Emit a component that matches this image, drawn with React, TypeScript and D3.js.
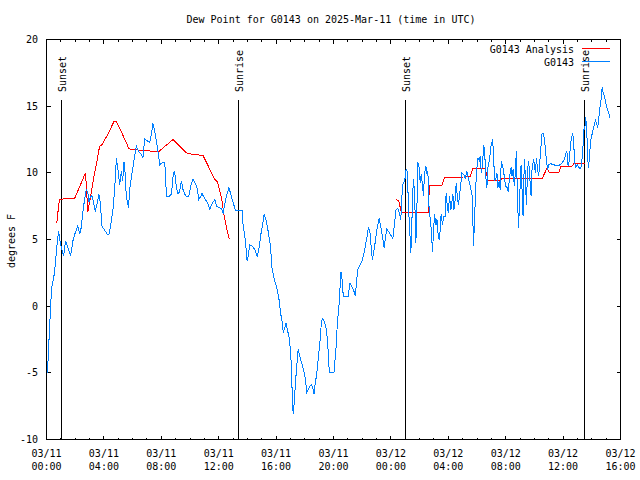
import React from "react";
import * as d3 from "d3";

const TITLE = "Dew Point for G0143 on 2025-Mar-11 (time in UTC)";
const Y_LABEL = "degrees F";
const SERIES_NAMES = ["G0143 Analysis", "G0143"];
const SERIES_COLORS = ["#ff0000", "#0080ff"];
const Y_TICKS = [-10, -5, 0, 5, 10, 15, 20];

// hours since 2025-03-11 00:00 UTC
const OBS_HOURS = [
  0.0, 0.07, 0.21, 0.35, 0.56, 0.72, 0.84, 0.96, 1.07, 1.19, 1.33, 1.49, 1.68, 1.84, 2.0, 2.18, 2.32, 2.42, 2.53, 2.65,
  2.77, 2.88, 2.95, 3.05, 3.16, 3.28, 3.4, 3.51, 3.65, 3.75, 3.86, 4.05, 4.24, 4.35, 4.47, 4.63, 4.75, 4.87, 4.98, 5.1,
  5.21, 5.31, 5.4, 5.45, 5.56, 5.72, 5.79, 5.95, 6.14, 6.26, 6.42, 6.61, 6.72, 6.84, 7.03, 7.19, 7.31, 7.42, 7.54, 7.66,
  7.77, 7.89, 8.05, 8.24, 8.36, 8.52, 8.71, 8.82, 8.89, 8.98, 9.05, 9.17, 9.28, 9.4, 9.51, 9.63, 9.75, 9.91, 10.05, 10.21,
  10.38, 10.52, 10.61, 10.75, 10.84, 11.03, 11.22, 11.38, 11.54, 11.73, 11.85, 12.01, 12.2, 12.31, 12.38, 12.54, 12.71, 12.84, 12.94, 13.08,
  13.17, 13.35, 13.63, 13.7, 13.82, 13.89, 13.98, 14.05, 14.17, 14.33, 14.52, 14.68, 14.8, 14.94, 15.06, 15.17, 15.29, 15.45, 15.62, 15.69,
  15.85, 15.99, 16.1, 16.22, 16.31, 16.43, 16.5, 16.61, 16.68, 16.78, 16.89, 16.96, 17.03, 17.08, 17.15, 17.19, 17.26, 17.36, 17.43, 17.54,
  17.61, 17.73, 17.85, 17.96, 18.06, 18.13, 18.24, 18.36, 18.48, 18.55, 18.64, 18.71, 18.83, 18.94, 19.06, 19.13, 19.22, 19.34, 19.46, 19.57,
  19.64, 19.71, 20.03, 20.17, 20.27, 20.38, 20.45, 20.52, 20.61, 20.68, 21.03, 21.15, 21.27, 21.43, 21.52, 21.62, 21.69, 21.85, 21.99, 22.08,
  22.2, 22.32, 22.43, 22.55, 22.62, 22.71, 22.78, 22.9, 23.02, 23.18, 23.29, 23.41, 23.53, 23.6, 23.71, 23.87, 24.01, 24.13, 24.24, 24.36,
  24.48, 24.59, 24.69, 24.81, 24.92, 24.99, 25.06, 25.15, 25.22, 25.32, 25.39, 25.46, 25.5, 25.57, 25.64, 25.69, 25.74, 25.81, 25.88, 25.97,
  26.04, 26.11, 26.2, 26.27, 26.34, 26.44, 26.51, 26.58, 26.62, 26.74, 26.81, 26.9, 26.97, 27.04, 27.14, 27.21, 27.27, 27.36, 27.43, 27.5,
  27.6, 27.67, 27.78, 27.85, 27.94, 28.01, 28.08, 28.18, 28.32, 28.39, 28.48, 28.55, 28.64, 28.71, 28.83, 28.95, 29.06, 29.18, 29.3, 29.41,
  29.53, 29.65, 29.72, 29.76, 29.83, 29.93, 30.0, 30.07, 30.16, 30.23, 30.3, 30.39, 30.46, 30.53, 30.63, 30.69, 30.76, 30.86, 30.93, 30.99,
  31.09, 31.16, 31.23, 31.32, 31.39, 31.46, 31.55, 31.62, 31.69, 31.81, 31.9, 31.99, 32.09, 32.18, 32.27, 32.37, 32.44, 32.51, 32.6, 32.67,
  32.74, 32.83, 32.9, 32.97, 33.07, 33.14, 33.21, 33.3, 33.37, 33.44, 33.53, 33.6, 33.67, 33.77, 33.84, 33.95, 34.02, 34.07, 34.14, 34.23,
  34.3, 34.37, 34.46, 34.53, 34.6, 34.69, 34.76, 34.83, 34.92, 34.99, 35.11, 35.34, 35.58, 35.81, 35.93, 36.04, 36.16, 36.23, 36.28, 36.35,
  36.44, 36.51, 36.58, 36.67, 36.75, 36.79, 36.86, 36.98, 37.09, 37.21, 37.28, 37.35, 37.42, 37.47, 37.51, 37.58, 37.63, 37.7, 37.75, 37.79,
  37.86, 37.95, 38.02, 38.09, 38.18, 38.25, 38.32, 38.41, 38.48, 38.55, 38.65, 38.72, 38.79, 38.88, 38.95, 39.02, 39.11, 39.18, 39.25,
];
const OBS_VALUES = [
  -5.1, -4.9, -1.7, 1.3, 2.5, 4.5, 5.6, 4.8, 4.25, 3.75, 4.9, 4.4, 3.8, 4.9, 5.5, 6.0, 5.4, 5.9, 7.0, 8.0,
  8.75, 8.55, 7.8, 8.15, 8.3, 7.8, 7.1, 7.6, 8.4, 7.8, 6.0, 5.7, 5.4, 5.4, 6.0, 7.25, 8.75, 11.1, 10.25, 9.1,
  10.1, 9.4, 10.8, 10.5, 8.25, 7.4, 8.75, 9.9, 11.25, 12.0, 11.6, 11.4, 11.1, 12.55, 12.4, 12.25, 12.9, 13.7, 13.1, 12.4,
  11.6, 10.6, 10.75, 10.8, 8.25, 8.2, 8.4, 9.75, 10.1, 9.75, 8.9, 8.4, 8.6, 9.4, 8.75, 8.4, 8.2, 8.2, 9.0, 9.55,
  9.2, 8.75, 8.0, 8.25, 8.45, 8.05, 7.75, 7.25, 7.7, 8.0, 7.5, 7.4, 7.3, 6.95, 7.4, 8.25, 8.9, 8.4, 8.0, 7.5,
  7.2, 7.2, 7.2, 6.1, 5.25, 4.5, 3.4, 3.75, 4.6, 4.5, 4.25, 3.7, 4.25, 5.4, 6.1, 6.9, 6.5, 5.6, 4.4, 3.0,
  2.1, 1.6, 1.1, 0.4, -0.5, -1.25, -2.0, -1.6, -1.25, -1.75, -2.25, -2.9, -3.75, -5.4, -7.1, -8.1, -7.25, -5.6, -4.6, -3.25,
  -3.6, -4.1, -4.5, -5.0, -5.6, -6.5, -6.25, -6.0, -5.9, -6.1, -6.6, -5.9, -5.1, -3.9, -2.6, -1.6, -0.9, -1.1, -1.5, -2.4,
  -3.6, -5.0, -5.0, -3.25, -1.25, 0.0, 1.25, 2.55, 1.9, 0.75, 0.75, 1.75, 1.5, 1.1, 0.75, 2.0, 2.75, 3.1, 3.4, 3.75,
  4.4, 5.1, 5.9, 5.5, 4.5, 3.5, 3.9, 4.75, 5.75, 6.6, 6.0, 5.25, 4.4, 5.0, 5.8, 5.55, 5.3, 5.05, 6.1, 7.25,
  7.3, 7.0, 6.5, 9.1, 9.3, 9.6, 10.25, 10.1, 7.5, 5.5, 4.0, 6.1, 8.0, 9.5, 8.6, 6.9, 4.75, 7.25, 10.8, 10.4,
  9.25, 9.9, 9.1, 8.25, 9.9, 10.5, 9.9, 10.1, 7.9, 6.5, 5.75, 4.1, 5.6, 6.9, 6.1, 6.5, 5.6, 5.0, 5.6, 6.9,
  6.1, 6.75, 6.75, 8.5, 7.4, 7.0, 8.25, 7.25, 8.4, 7.25, 8.0, 9.25, 8.0, 7.6, 8.75, 10.0, 9.9, 9.6, 10.1, 9.5,
  9.0, 8.4, 6.1, 4.5, 6.6, 9.25, 10.4, 11.1, 10.9, 11.25, 10.0, 10.6, 12.1, 11.6, 9.5, 8.9, 10.4, 10.9, 11.6, 12.1,
  12.5, 11.1, 9.4, 9.6, 10.0, 8.9, 9.4, 8.75, 10.9, 10.4, 9.75, 9.0, 8.9, 8.6, 9.75, 10.4, 9.75, 10.25, 9.0, 10.0,
  11.6, 7.75, 5.9, 8.1, 10.6, 8.75, 6.75, 11.0, 9.75, 7.6, 10.25, 10.9, 9.75, 8.25, 10.4, 11.0, 10.4, 10.0, 11.1, 10.25,
  9.75, 10.75, 12.0, 12.9, 13.0, 12.6, 11.9, 11.0, 10.25, 10.6, 10.7, 10.6, 10.55, 10.6, 10.75, 10.9, 11.25, 11.6, 11.5, 10.5,
  11.0, 12.1, 12.6, 13.0, 12.0, 11.0, 10.4, 10.6, 10.4, 10.3, 10.6, 11.4, 12.6, 13.5, 13.25, 14.2, 13.25, 12.0, 10.4, 10.6,
  11.6, 12.6, 12.9, 13.25, 13.6, 13.95, 13.75, 13.4, 14.0, 14.75, 15.5, 16.4, 16.05, 15.75, 15.4, 15.0, 14.7, 14.5, 14.1,
];

// analysis series, two segments (gap between them)
const ANA1_HOURS = [0.72, 0.84, 0.91, 1.26, 1.95, 2.72, 2.88, 3.12, 3.35, 3.54, 3.7, 3.86, 4.28, 4.7, 4.87, 5.21, 5.75, 6.49, 7.66, 7.77, 8.82, 9.75, 10.1, 10.91, 11.73, 11.92, 12.2, 12.38, 12.54, 12.73];
const ANA1_VALUES = [6.25, 7.5, 8.0, 8.05, 8.05, 10.0, 7.1, 8.5, 10.0, 11.0, 12.0, 12.1, 12.9, 13.85, 13.85, 13.1, 11.8, 11.7, 11.6, 11.55, 12.5, 11.5, 11.4, 11.3, 9.5, 9.3, 8.1, 6.75, 5.9, 5.05];
const ANA2_HOURS = [24.33, 24.54, 24.73, 26.6, 26.69, 27.54, 27.73, 29.53, 29.7, 30.58, 30.79, 31.62, 31.73, 34.53, 34.88, 35.06, 35.69, 35.85, 36.63, 36.75, 37.56];
const ANA2_VALUES = [8.0, 7.9, 7.05, 7.05, 9.05, 9.05, 9.65, 9.7, 10.3, 10.3, 9.4, 9.4, 9.6, 9.55, 10.35, 10.0, 10.0, 10.5, 10.5, 10.7, 10.7];

const EVENT_HOURS = [0.98, 13.35, 25.01, 37.44];
const EVENT_LABELS = ["Sunset", "Sunrise", "Sunset", "Sunrise"];

const START = Date.UTC(2025, 2, 11, 0, 0);
const END = Date.UTC(2025, 2, 12, 16, 0);
const toDate = (h: number) => new Date(START + h * 3600e3);

const FONT = "'DejaVu Sans Mono', 'Liberation Mono', monospace";

export default function App() {
  const W = 640, H = 480;
  const left = 46.5, right = 620.5, top = 39.5, bottom = 439.5;
  const x = d3.scaleUtc().domain([new Date(START), new Date(END)]).range([left, right]);
  const y = d3.scaleLinear().domain([-10, 20]).range([bottom, top]);

  const line = d3
    .line<[Date, number]>()
    .x((d) => x(d[0]))
    .y((d) => y(d[1]));

  const obs: [Date, number][] = OBS_HOURS.map((h, i) => [toDate(h), OBS_VALUES[i]]);
  const ana1: [Date, number][] = ANA1_HOURS.map((h, i) => [toDate(h), ANA1_VALUES[i]]);
  const ana2: [Date, number][] = ANA2_HOURS.map((h, i) => [toDate(h), ANA2_VALUES[i]]);

  const majorTicks = x.ticks(d3.utcHour.every(4)!);
  const minorTicks = x.ticks(d3.utcHour.every(1)!);
  const fmtDate = d3.utcFormat("%m/%d");
  const fmtTime = d3.utcFormat("%H:%M");

  return (
    <svg width={W} height={H} style={{ display: "block", position: "absolute", left: 0, top: 0, background: "#fff" }} fontFamily={FONT} fontSize={10}>
      <rect x={0} y={0} width={W} height={H} fill="#fff" />
      <text x={331} y={23} textAnchor="middle" fill="#000">{TITLE}</text>
      <text transform={`translate(15,241) rotate(-90)`} textAnchor="middle" fill="#000">{Y_LABEL}</text>

      {/* ticks */}
      <g shapeRendering="crispEdges" stroke="#000">
        {Y_TICKS.map((t) => (
          <g key={t}>
            <line x1={left} x2={left + 4} y1={y(t)} y2={y(t)} />
            <line x1={right} x2={right - 4} y1={y(t)} y2={y(t)} />
          </g>
        ))}
        {minorTicks.map((t, i) => {
          const major = majorTicks.some((m) => +m === +t);
          const len = major ? 4 : 2;
          return (
            <g key={i}>
              <line x1={x(t)} x2={x(t)} y1={bottom} y2={bottom - len} />
              <line x1={x(t)} x2={x(t)} y1={top} y2={top + len} />
            </g>
          );
        })}
      </g>
      {Y_TICKS.map((t) => (
        <text key={t} x={38} y={y(t) + 3.5} textAnchor="end" fill="#000">{t}</text>
      ))}
      {majorTicks.map((t, i) => (
        <g key={i}>
          <text x={x(t)} y={457} textAnchor="middle" fill="#000">{fmtDate(t)}</text>
          <text x={x(t)} y={470} textAnchor="middle" fill="#000">{fmtTime(t)}</text>
        </g>
      ))}

      {/* event lines */}
      {EVENT_HOURS.map((h, i) => {
        const ex = Math.round(x(toDate(h))) + 0.5;
        return (
          <g key={i}>
            <line x1={ex} x2={ex} y1={99.5} y2={bottom} stroke="#000" shapeRendering="crispEdges" />
            <text transform={`translate(${ex + 4},92) rotate(-90)`} fill="#000">{EVENT_LABELS[i]}</text>
          </g>
        );
      })}

      {/* data */}
      <g shapeRendering="crispEdges" fill="none" strokeWidth={1}>
        <path d={line(ana1) || ""} stroke={SERIES_COLORS[0]} />
        <path d={line(ana2) || ""} stroke={SERIES_COLORS[0]} />
        <path d={line(obs) || ""} stroke={SERIES_COLORS[1]} />
      </g>

      {/* legend */}
      <text x={574} y={53} textAnchor="end" fill="#000">{SERIES_NAMES[0]}</text>
      <line x1={582} x2={610} y1={48.5} y2={48.5} stroke={SERIES_COLORS[0]} shapeRendering="crispEdges" />
      <text x={574} y={66} textAnchor="end" fill="#000">{SERIES_NAMES[1]}</text>
      <line x1={582} x2={610} y1={61.5} y2={61.5} stroke={SERIES_COLORS[1]} shapeRendering="crispEdges" />

      {/* border */}
      <rect x={left} y={top} width={right - left} height={bottom - top} fill="none" stroke="#000" shapeRendering="crispEdges" />
    </svg>
  );
}
